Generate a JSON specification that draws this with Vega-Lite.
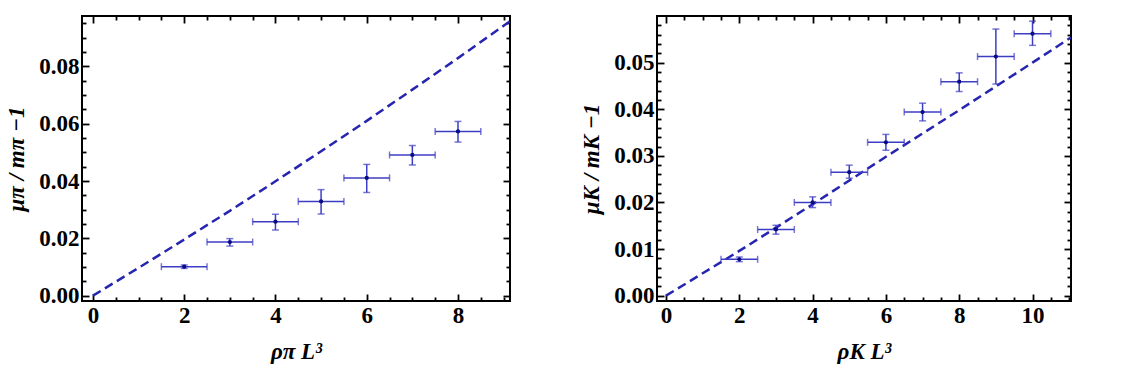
{
  "$schema": "https://vega.github.io/schema/vega-lite/v6.json",
  "padding": {"left": 4, "top": 14, "right": 5, "bottom": 5},
  "background": "white",
  "bounds": "flush",
  "spacing": 147,
  "datasets": {
    "piCurve": [
      {"x": 0, "y": 0}, {"x": 1, "y": 0.0097}, {"x": 2, "y": 0.0196}, {"x": 3, "y": 0.0296},
      {"x": 4, "y": 0.0399}, {"x": 5, "y": 0.0504}, {"x": 6, "y": 0.061}, {"x": 7, "y": 0.0719},
      {"x": 8, "y": 0.0829}, {"x": 9, "y": 0.0942}, {"x": 9.14, "y": 0.0958}
    ],
    "piPoints": [
      {"x": 2, "xlo": 1.5, "xhi": 2.5, "y": 0.0101, "ylo": 0.0095, "yhi": 0.0107},
      {"x": 3, "xlo": 2.5, "xhi": 3.5, "y": 0.0187, "ylo": 0.0173, "yhi": 0.0199},
      {"x": 4, "xlo": 3.5, "xhi": 4.5, "y": 0.0258, "ylo": 0.0229, "yhi": 0.0284},
      {"x": 5, "xlo": 4.5, "xhi": 5.5, "y": 0.0329, "ylo": 0.0285, "yhi": 0.037},
      {"x": 6, "xlo": 5.5, "xhi": 6.5, "y": 0.0411, "ylo": 0.036, "yhi": 0.0458},
      {"x": 7, "xlo": 6.5, "xhi": 7.5, "y": 0.0491, "ylo": 0.0456, "yhi": 0.0524},
      {"x": 8, "xlo": 7.5, "xhi": 8.5, "y": 0.0573, "ylo": 0.0536, "yhi": 0.0608}
    ],
    "kCurve": [
      {"x": 0, "y": 0}, {"x": 2, "y": 0.0096}, {"x": 4, "y": 0.0196}, {"x": 6, "y": 0.0298},
      {"x": 8, "y": 0.0398}, {"x": 10, "y": 0.05}, {"x": 11.05, "y": 0.0554}
    ],
    "kPoints": [
      {"x": 2, "xlo": 1.5, "xhi": 2.5, "y": 0.0078, "ylo": 0.0073, "yhi": 0.0083},
      {"x": 3, "xlo": 2.5, "xhi": 3.5, "y": 0.0142, "ylo": 0.0132, "yhi": 0.0151},
      {"x": 4, "xlo": 3.5, "xhi": 4.5, "y": 0.02, "ylo": 0.0189, "yhi": 0.0212},
      {"x": 5, "xlo": 4.5, "xhi": 5.5, "y": 0.0265, "ylo": 0.0252, "yhi": 0.028},
      {"x": 6, "xlo": 5.5, "xhi": 6.5, "y": 0.0329, "ylo": 0.0312, "yhi": 0.0346},
      {"x": 7, "xlo": 6.5, "xhi": 7.5, "y": 0.0394, "ylo": 0.0375, "yhi": 0.0413},
      {"x": 8, "xlo": 7.5, "xhi": 8.5, "y": 0.0459, "ylo": 0.0438, "yhi": 0.0478},
      {"x": 9, "xlo": 8.5, "xhi": 9.5, "y": 0.0513, "ylo": 0.0454, "yhi": 0.0572},
      {"x": 10, "xlo": 9.5, "xhi": 10.5, "y": 0.0562, "ylo": 0.0537, "yhi": 0.0589}
    ]
  },
  "hconcat": [
    {
      "width": 428,
      "height": 285,
      "resolve": {"axis": {"x": "independent", "y": "independent"}},
      "layer": [
        {
          "data": {"name": "piCurve"},
          "mark": {"type": "line", "color": "#2525b0", "strokeWidth": 2.5, "strokeDash": [9, 5], "clip": true},
          "encoding": {
            "x": {"field": "x", "type": "quantitative", "scale": {"domain": [-0.24, 9.14], "nice": false, "zero": false},
              "axis": {"orient": "bottom", "title": "ρπ L³", "format": "d", "values": [0, 2, 4, 6, 8], "offset": -7, "tickSize": 7}},
            "y": {"field": "y", "type": "quantitative", "scale": {"domain": [-0.00187, 0.0976], "nice": false, "zero": false},
              "axis": {"orient": "left", "title": "μπ / mπ −1", "format": ".2f", "values": [0, 0.02, 0.04, 0.06, 0.08], "offset": -7, "tickSize": 7}}
          }
        },
        {
          "data": {"name": "piPoints"},
          "mark": {"type": "rule", "color": "#3d3dc4", "strokeWidth": 1.5},
          "encoding": {
            "x": {"field": "xlo", "type": "quantitative",
              "axis": {"orient": "top", "title": null, "labels": false, "values": [0, 2, 4, 6, 8], "offset": -7, "tickSize": 7}},
            "x2": {"field": "xhi"},
            "y": {"field": "y", "type": "quantitative",
              "axis": {"orient": "right", "title": null, "labels": false, "values": [0, 0.02, 0.04, 0.06, 0.08], "offset": -7, "tickSize": 7}}
          }
        },
        {
          "data": {"name": "piPoints"},
          "mark": {"type": "rule", "color": "#3d3dc4", "strokeWidth": 1.5},
          "encoding": {
            "x": {"field": "x", "type": "quantitative", "axis": null},
            "y": {"field": "ylo", "type": "quantitative", "axis": null},
            "y2": {"field": "yhi"}
          }
        },
        {
          "data": {"name": "piPoints"},
          "mark": {"type": "tick", "orient": "vertical", "color": "#3d3dc4", "thickness": 1.5, "size": 7},
          "encoding": {
            "x": {"field": "xlo", "type": "quantitative",
              "axis": {"orient": "bottom", "title": null, "labels": false, "offset": -4, "tickSize": 4,
                "values": [0.5, 1, 1.5, 2.5, 3, 3.5, 4.5, 5, 5.5, 6.5, 7, 7.5, 8.5, 9]}},
            "y": {"field": "y", "type": "quantitative",
              "axis": {"orient": "left", "title": null, "labels": false, "offset": -4, "tickSize": 4,
                "values": [0.005, 0.01, 0.015, 0.025, 0.03, 0.035, 0.045, 0.05, 0.055, 0.065, 0.07, 0.075, 0.085, 0.09, 0.095]}}
          }
        },
        {
          "data": {"name": "piPoints"},
          "mark": {"type": "tick", "orient": "vertical", "color": "#3d3dc4", "thickness": 1.5, "size": 7},
          "encoding": {
            "x": {"field": "xhi", "type": "quantitative",
              "axis": {"orient": "top", "title": null, "labels": false, "offset": -4, "tickSize": 4,
                "values": [0.5, 1, 1.5, 2.5, 3, 3.5, 4.5, 5, 5.5, 6.5, 7, 7.5, 8.5, 9]}},
            "y": {"field": "y", "type": "quantitative",
              "axis": {"orient": "right", "title": null, "labels": false, "offset": -4, "tickSize": 4,
                "values": [0.005, 0.01, 0.015, 0.025, 0.03, 0.035, 0.045, 0.05, 0.055, 0.065, 0.07, 0.075, 0.085, 0.09, 0.095]}}
          }
        },
        {
          "data": {"name": "piPoints"},
          "mark": {"type": "tick", "orient": "horizontal", "color": "#3d3dc4", "thickness": 1.5, "size": 7},
          "encoding": {"x": {"field": "x", "type": "quantitative", "axis": null}, "y": {"field": "ylo", "type": "quantitative", "axis": null}}
        },
        {
          "data": {"name": "piPoints"},
          "mark": {"type": "tick", "orient": "horizontal", "color": "#3d3dc4", "thickness": 1.5, "size": 7},
          "encoding": {"x": {"field": "x", "type": "quantitative", "axis": null}, "y": {"field": "yhi", "type": "quantitative", "axis": null}}
        },
        {
          "data": {"name": "piPoints"},
          "mark": {"type": "point", "filled": true, "color": "#0b0b86", "size": 18, "opacity": 1},
          "encoding": {"x": {"field": "x", "type": "quantitative", "axis": null}, "y": {"field": "y", "type": "quantitative", "axis": null}}
        }
      ]
    },
    {
      "width": 414,
      "height": 285,
      "resolve": {"axis": {"x": "independent", "y": "independent"}},
      "layer": [
        {
          "data": {"name": "kCurve"},
          "mark": {"type": "line", "color": "#2525b0", "strokeWidth": 2.5, "strokeDash": [9, 5], "clip": true},
          "encoding": {
            "x": {"field": "x", "type": "quantitative", "scale": {"domain": [-0.246, 11.05], "nice": false, "zero": false},
              "axis": {"orient": "bottom", "title": "ρK L³", "format": "d", "values": [0, 2, 4, 6, 8, 10], "offset": -7, "tickSize": 7}},
            "y": {"field": "y", "type": "quantitative", "scale": {"domain": [-0.00114, 0.06], "nice": false, "zero": false},
              "axis": {"orient": "left", "title": "μK / mK −1", "format": ".2f", "values": [0, 0.01, 0.02, 0.03, 0.04, 0.05], "offset": -7, "tickSize": 7}}
          }
        },
        {
          "data": {"name": "kPoints"},
          "mark": {"type": "rule", "color": "#3d3dc4", "strokeWidth": 1.5},
          "encoding": {
            "x": {"field": "xlo", "type": "quantitative",
              "axis": {"orient": "top", "title": null, "labels": false, "values": [0, 2, 4, 6, 8, 10], "offset": -7, "tickSize": 7}},
            "x2": {"field": "xhi"},
            "y": {"field": "y", "type": "quantitative",
              "axis": {"orient": "right", "title": null, "labels": false, "values": [0, 0.01, 0.02, 0.03, 0.04, 0.05], "offset": -7, "tickSize": 7}}
          }
        },
        {
          "data": {"name": "kPoints"},
          "mark": {"type": "rule", "color": "#3d3dc4", "strokeWidth": 1.5},
          "encoding": {
            "x": {"field": "x", "type": "quantitative", "axis": null},
            "y": {"field": "ylo", "type": "quantitative", "axis": null},
            "y2": {"field": "yhi"}
          }
        },
        {
          "data": {"name": "kPoints"},
          "mark": {"type": "tick", "orient": "vertical", "color": "#3d3dc4", "thickness": 1.5, "size": 7},
          "encoding": {
            "x": {"field": "xlo", "type": "quantitative",
              "axis": {"orient": "bottom", "title": null, "labels": false, "offset": -4, "tickSize": 4,
                "values": [0.5, 1, 1.5, 2.5, 3, 3.5, 4.5, 5, 5.5, 6.5, 7, 7.5, 8.5, 9, 9.5, 10.5, 11]}},
            "y": {"field": "y", "type": "quantitative",
              "axis": {"orient": "left", "title": null, "labels": false, "offset": -4, "tickSize": 4,
                "values": [0.002, 0.004, 0.006, 0.008, 0.012, 0.014, 0.016, 0.018, 0.022, 0.024, 0.026, 0.028, 0.032, 0.034, 0.036, 0.038, 0.042, 0.044, 0.046, 0.048, 0.052, 0.054, 0.056, 0.058]}}
          }
        },
        {
          "data": {"name": "kPoints"},
          "mark": {"type": "tick", "orient": "vertical", "color": "#3d3dc4", "thickness": 1.5, "size": 7},
          "encoding": {
            "x": {"field": "xhi", "type": "quantitative",
              "axis": {"orient": "top", "title": null, "labels": false, "offset": -4, "tickSize": 4,
                "values": [0.5, 1, 1.5, 2.5, 3, 3.5, 4.5, 5, 5.5, 6.5, 7, 7.5, 8.5, 9, 9.5, 10.5, 11]}},
            "y": {"field": "y", "type": "quantitative",
              "axis": {"orient": "right", "title": null, "labels": false, "offset": -4, "tickSize": 4,
                "values": [0.002, 0.004, 0.006, 0.008, 0.012, 0.014, 0.016, 0.018, 0.022, 0.024, 0.026, 0.028, 0.032, 0.034, 0.036, 0.038, 0.042, 0.044, 0.046, 0.048, 0.052, 0.054, 0.056, 0.058]}}
          }
        },
        {
          "data": {"name": "kPoints"},
          "mark": {"type": "tick", "orient": "horizontal", "color": "#3d3dc4", "thickness": 1.5, "size": 7},
          "encoding": {"x": {"field": "x", "type": "quantitative", "axis": null}, "y": {"field": "ylo", "type": "quantitative", "axis": null}}
        },
        {
          "data": {"name": "kPoints"},
          "mark": {"type": "tick", "orient": "horizontal", "color": "#3d3dc4", "thickness": 1.5, "size": 7},
          "encoding": {"x": {"field": "x", "type": "quantitative", "axis": null}, "y": {"field": "yhi", "type": "quantitative", "axis": null}}
        },
        {
          "data": {"name": "kPoints"},
          "mark": {"type": "point", "filled": true, "color": "#0b0b86", "size": 18, "opacity": 1},
          "encoding": {"x": {"field": "x", "type": "quantitative", "axis": null}, "y": {"field": "y", "type": "quantitative", "axis": null}}
        }
      ]
    }
  ],
  "config": {
    "view": {"stroke": "black", "strokeWidth": 2},
    "axis": {
      "domain": false,
      "grid": false,
      "tickColor": "black",
      "tickWidth": 1.8,
      "labelFont": "Liberation Serif",
      "labelFontWeight": "bold",
      "labelFontSize": 23,
      "labelColor": "black",
      "labelPadding": 3,
      "labelOverlap": false,
      "labelFlush": false,
      "labelBound": false,
      "titleFont": "Liberation Serif",
      "titleFontStyle": "italic",
      "titleFontWeight": "bold",
      "titleFontSize": 23,
      "titleColor": "black",
      "titlePadding": 10
    },
    "axisX": {"titlePadding": 13}
  }
}
